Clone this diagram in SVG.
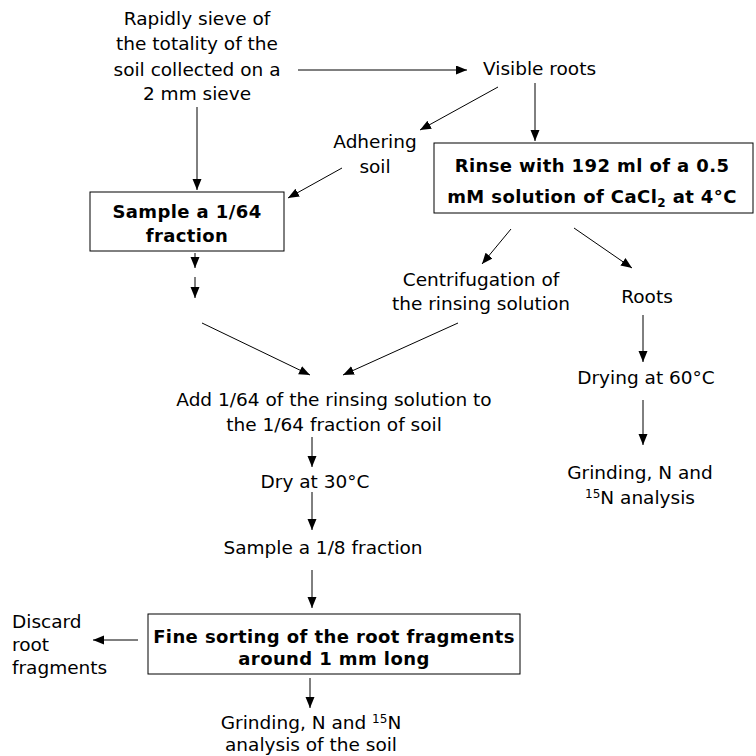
<svg xmlns="http://www.w3.org/2000/svg" width="756" height="756" viewBox="0 0 756 756">
  <style>
    .t { font-family: "DejaVu Sans", "Liberation Sans", sans-serif; font-size: 18.5px; fill: #000; text-anchor: middle; }
    .l { text-anchor: start; }
    .b { font-family: "DejaVu Sans", "Liberation Sans", sans-serif; font-size: 18px; font-weight: bold; letter-spacing: 0.4px; fill: #000; text-anchor: middle; }
    .box { fill: #fff; stroke: #000; stroke-width: 1; }
    .c line { stroke: #000; stroke-width: 1; marker-end: url(#ah); }
  </style>
  <defs>
    <marker id="ah" markerUnits="userSpaceOnUse" markerWidth="12" markerHeight="10" refX="11" refY="4.5" orient="auto">
      <path d="M0,0 L11,4.5 L0,9 z" fill="#000"/>
    </marker>
  </defs>
  <rect width="756" height="756" fill="#fff"/>

  <!-- connectors -->
  <g id="connectors" class="c">
    <line x1="298" y1="70" x2="467" y2="70"/>
    <line x1="197" y1="107" x2="197" y2="190"/>
    <line x1="498" y1="87" x2="420" y2="130"/>
    <line x1="535" y1="83" x2="535" y2="141"/>
    <line x1="342" y1="168" x2="288" y2="198"/>
    <line x1="195" y1="253" x2="195" y2="268"/>
    <line x1="195" y1="277" x2="195" y2="298"/>
    <line x1="511" y1="229" x2="482" y2="264"/>
    <line x1="574" y1="228" x2="632" y2="268"/>
    <line x1="643" y1="315" x2="643" y2="362"/>
    <line x1="643" y1="400" x2="643" y2="445"/>
    <line x1="202" y1="323" x2="310" y2="375"/>
    <line x1="458" y1="323" x2="343" y2="375"/>
    <line x1="312" y1="437" x2="312" y2="467"/>
    <line x1="312" y1="492" x2="312" y2="530"/>
    <line x1="312" y1="570" x2="312" y2="608"/>
    <line x1="138" y1="640" x2="93" y2="640"/>
    <line x1="310" y1="678" x2="310" y2="708"/>
  </g>

  <g id="sieve">
    <text class="t" x="197" y="25">Rapidly sieve of</text>
    <text class="t" x="197" y="50">the totality of the</text>
    <text class="t" x="197" y="76">soil collected on a</text>
    <text class="t" x="197" y="100">2 mm sieve</text>
  </g>

  <g id="visible-roots">
    <text class="t l" x="483" y="75">Visible roots</text>
  </g>

  <g id="adhering-soil">
    <text class="t" x="375" y="148">Adhering</text>
    <text class="t" x="375" y="173">soil</text>
  </g>

  <g id="rinse">
    <rect class="box" x="434" y="143" width="319" height="70"/>
    <text class="b" x="592" y="172">Rinse with 192 ml of a 0.5</text>
    <text class="b" x="592" y="203">mM solution of CaCl<tspan font-size="12" dy="4">2</tspan><tspan dy="-4"> at 4°C</tspan></text>
  </g>

  <g id="sample-64">
    <rect class="box" x="90" y="192" width="194" height="59"/>
    <text class="b" x="187" y="218">Sample a 1/64</text>
    <text class="b" x="187" y="242">fraction</text>
  </g>

  <g id="centrifugation">
    <text class="t" x="481" y="286">Centrifugation of</text>
    <text class="t" x="481" y="310">the rinsing solution</text>
  </g>

  <g id="roots">
    <text class="t" x="647" y="303">Roots</text>
  </g>

  <g id="drying-60">
    <text class="t" x="646" y="384">Drying at 60°C</text>
  </g>

  <g id="grinding-roots">
    <text class="t" x="640" y="479">Grinding, N and</text>
    <text class="t" x="640" y="504"><tspan font-size="12" dy="-6">15</tspan><tspan dy="6">N analysis</tspan></text>
  </g>

  <g id="add-rinsing">
    <text class="t" x="334" y="406">Add 1/64 of the rinsing solution to</text>
    <text class="t" x="334" y="431">the 1/64 fraction of soil</text>
  </g>

  <g id="dry-30">
    <text class="t" x="315" y="488">Dry at 30°C</text>
  </g>

  <g id="sample-8">
    <text class="t" x="323" y="554">Sample a 1/8 fraction</text>
  </g>

  <g id="fine-sorting">
    <rect class="box" x="148" y="614" width="372" height="60"/>
    <text class="b" x="334" y="643">Fine sorting of the root fragments</text>
    <text class="b" x="334" y="665">around 1 mm long</text>
  </g>

  <g id="discard">
    <text class="t l" x="12" y="628">Discard</text>
    <text class="t l" x="12" y="651">root</text>
    <text class="t l" x="12" y="674">fragments</text>
  </g>

  <g id="grinding-soil">
    <text class="t" x="311" y="729">Grinding, N and <tspan font-size="12" dy="-6">15</tspan><tspan dy="6">N</tspan></text>
    <text class="t" x="311" y="751">analysis of the soil</text>
  </g>
</svg>
